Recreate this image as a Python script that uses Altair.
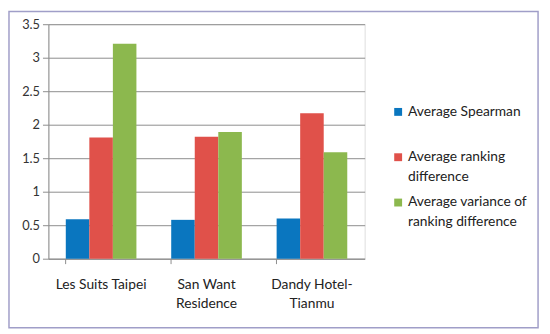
import altair as alt
import pandas as pd

hotels = ["Les Suits Taipei", "San Want Residence", "Dandy Hotel-Tianmu"]
series = ["Average Spearman", "Average ranking difference", "Average variance of ranking difference"]
spearman = [0.59, 0.58, 0.60]
rank_diff = [1.81, 1.82, 2.17]
variance = [3.21, 1.89, 1.59]
colors = ["#0a76bf", "#e0514a", "#8cb84e"]

rows = []
for i, h in enumerate(hotels):
    for s, vals in zip(series, [spearman, rank_diff, variance]):
        rows.append({"hotel": h, "series": s, "value": vals[i]})
df = pd.DataFrame(rows)

FONT = "Lato"

x_label_expr = ("datum.label == 'San Want Residence' ? ['San Want', 'Residence'] : "
                "datum.label == 'Dandy Hotel-Tianmu' ? ['Dandy Hotel-', 'Tianmu'] : datum.label")
leg_label_expr = ("datum.label == 'Average ranking difference' ? ['Average ranking', 'difference'] : "
                  "datum.label == 'Average variance of ranking difference' ? ['Average variance of', 'ranking difference'] : "
                  "[datum.label, ' ']")

bars = alt.Chart(df).mark_bar().encode(
    x=alt.X("hotel:N", sort=hotels, title=None,
            scale=alt.Scale(paddingInner=0.33, paddingOuter=0.165),
            axis=alt.Axis(labelAngle=0, labelExpr=x_label_expr, bandPosition=0,
                          tickSize=5, tickColor="#8c8c8c", domainColor="#8c8c8c",
                          labelFont=FONT, labelFontSize=14, labelColor="#222222",
                          labelPadding=14, labelLineHeight=20, grid=False)),
    xOffset=alt.XOffset("series:N", sort=series, scale=alt.Scale(paddingInner=0, paddingOuter=0)),
    y=alt.Y("value:Q", title=None,
            scale=alt.Scale(domain=[0, 3.5], nice=False),
            axis=alt.Axis(values=[0, 0.5, 1, 1.5, 2, 2.5, 3, 3.5], format="~g",
                          tickSize=6, tickColor="#8c8c8c", domainColor="#8c8c8c",
                          gridColor="#8c8c8c", labelFont=FONT, labelFontSize=13,
                          labelColor="#333333", labelPadding=3)),
    color=alt.Color("series:N", sort=series,
                    scale=alt.Scale(domain=series, range=colors),
                    legend=alt.Legend(title=None, orient="none", legendX=348, legendY=82,
                                      symbolType="square", symbolSize=64, symbolStrokeWidth=0,
                                      labelFont=FONT, labelFontSize=14, labelColor="#222222",
                                      labelExpr=leg_label_expr, labelLimit=200,
                                      rowPadding=12, labelOffset=3)),
)

border = alt.Chart(pd.DataFrame({"a": [0]})).mark_rect(
    fill=None, stroke="#a09ec8", strokeWidth=1.5
).encode(
    x=alt.value(-40), x2=alt.value(497), y=alt.value(-13), y2=alt.value(308)
)

chart = alt.layer(bars, border).properties(
    width=321, height=238,
    autosize=alt.AutoSizeParams(type="none"),
    padding={"left": 41, "top": 14, "right": 180, "bottom": 76},
).configure_view(stroke=None).configure(
    background="white",
    style={"guide-label": {"lineHeight": 20}},
)

chart.save("out.html", embed_options={"renderer": "svg", "actions": False})
